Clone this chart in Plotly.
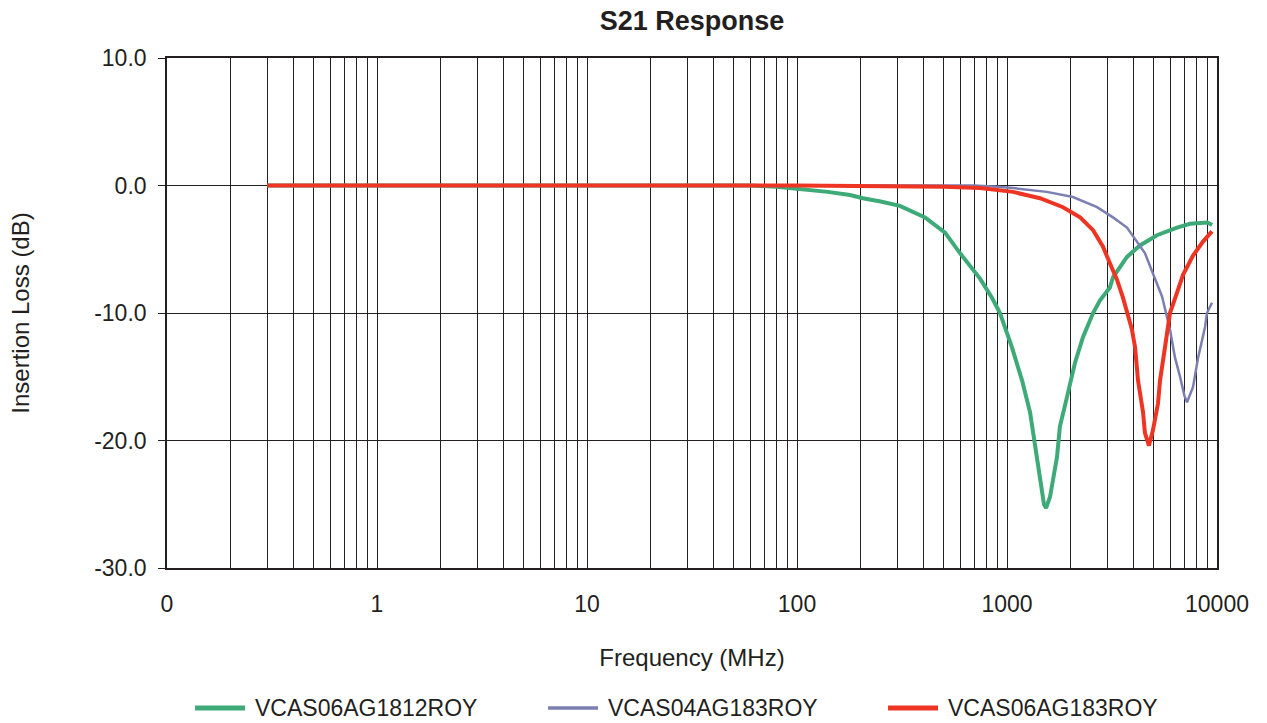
import plotly.graph_objects as go

# ---- data ----
green_name = "VCAS06AG1812ROY"
green_f = [0.3, 1, 10, 30, 60, 80, 100, 140, 179, 206, 250, 309, 407, 507, 597, 744, 848, 926,
           1056, 1180, 1288, 1360, 1435, 1500, 1535, 1604, 1730, 1786, 1930, 2108, 2300, 2570,
           2773, 3090, 3197, 3727, 4297, 5176, 6452, 7436, 9000, 9480]
green_db = [0, 0, 0, 0, 0, -0.1, -0.25, -0.5, -0.75, -1.0, -1.25, -1.6, -2.5, -3.7, -5.3, -7.3,
            -8.8, -10.0, -12.7, -15.3, -17.8, -20.5, -23.1, -25.0, -25.3, -24.4, -21.3, -18.9,
            -16.6, -13.9, -11.9, -10.0, -9.0, -8.0, -7.2, -5.6, -4.7, -3.9, -3.3, -3.0, -2.9, -3.1]

blue_name = "VCAS04AG183ROY"
blue_f = [0.3, 1, 10, 100, 700, 900, 1068, 1549, 2061, 2684, 3197, 3727, 4158, 4537, 4953, 5473,
          5972, 6310, 6668, 7000, 7197, 7690, 8128, 8770, 8958, 9462]
blue_db = [0, 0, 0, 0, 0, -0.1, -0.2, -0.5, -0.9, -1.7, -2.5, -3.3, -4.4, -5.3, -6.9, -8.7,
           -11.3, -13.5, -15.0, -16.5, -17.0, -15.8, -13.5, -11.1, -10.0, -9.2]

red_name = "VCAS06AG183ROY"
red_f = [0.3, 1, 10, 100, 500, 744, 1068, 1435, 1848, 2228, 2570, 2865, 3090, 3343, 3566, 3936,
         4074, 4207, 4446, 4537, 4742, 4953, 5236, 5354, 5653, 5972, 6452, 6890, 7690, 8578, 9462]
red_db = [0, 0, 0, 0, -0.1, -0.2, -0.5, -1.0, -1.7, -2.5, -3.5, -4.8, -6.1, -7.4, -8.8, -11.3,
          -12.7, -15.3, -17.8, -19.4, -20.4, -19.2, -17.1, -15.3, -12.7, -10.0, -8.4, -7.0,
          -5.5, -4.4, -3.6]

decades = [0.1, 1, 10, 100, 1000, 10000]
decade_labels = ["0", "1", "10", "100", "1000", "10000"]
y_ticks = [10, 0, -10, -20, -30]
y_labels = ["10.0", "0.0", "-10.0", "-20.0", "-30.0"]

minor_vals = [d * k for d in decades[:-1] for k in range(2, 10)]

FONT = "Liberation Sans, Arial, sans-serif"
INK = "#231F20"
GRID = "#231F20"

series = [
    (green_name, green_f, green_db, "#3DAA78", 4),
    (blue_name, blue_f, blue_db, "#7B7FB2", 2.5),
    (red_name, red_f, red_db, "#EE3524", 4),
]

fig = go.Figure()
for name, f, db, color, w in series:
    fig.add_trace(go.Scatter(x=f, y=db, mode="lines", name=name,
                             line=dict(color=color, width=w), showlegend=False))

# custom legend below the chart (paper coordinates), built from series names/colours
legend_x = [0.0267, 0.3629, 0.6867]   # line start of each entry
legend_y = -0.2745
legend_len = 0.0476
legend_w = [5, 3.5, 5]
shapes = []
annotations = []
for (name, f, db, color, w), lx, lw in zip(series, legend_x, legend_w):
    shapes.append(dict(type="line", xref="paper", yref="paper",
                       x0=lx, x1=lx + legend_len, y0=legend_y, y1=legend_y,
                       line=dict(color=color, width=lw)))
    annotations.append(dict(xref="paper", yref="paper", x=lx + legend_len + 0.0076, y=legend_y,
                            xanchor="left", yanchor="middle", showarrow=False, text=name,
                            font=dict(size=23, family=FONT, color=INK)))

fig.update_layout(
    width=1267, height=723,
    paper_bgcolor="white", plot_bgcolor="white",
    margin=dict(l=167, r=50, t=58, b=155),
    font=dict(family=FONT, color=INK, size=23),
    title=dict(text="<b>S21 Response</b>", x=0.5, xref="paper", y=0.971, yanchor="middle",
               font=dict(size=27, family=FONT, color=INK)),
    showlegend=False,
    shapes=shapes,
    annotations=annotations,
)
fig.update_xaxes(
    type="log", range=[-1, 4],
    tickvals=decades, ticktext=decade_labels, ticks="", ticklabelstandoff=15,
    tickfont=dict(size=23, color=INK),
    showgrid=True, gridcolor=GRID, gridwidth=1.4,
    minor=dict(tickvals=minor_vals, showgrid=True, gridcolor=GRID, gridwidth=1.4, ticks=""),
    showline=True, linecolor=GRID, linewidth=1.6, mirror=True,
    title=dict(text="Frequency (MHz)", font=dict(size=24, color=INK), standoff=33),
    zeroline=False, automargin=False,
)
fig.update_yaxes(
    range=[-30, 10], tickvals=y_ticks, ticktext=y_labels,
    ticks="outside", ticklen=7, tickcolor=GRID, tickwidth=1,
    ticklabelstandoff=7,
    tickfont=dict(size=23, color=INK),
    showgrid=True, gridcolor=GRID, gridwidth=1.4,
    showline=True, linecolor=GRID, linewidth=1.6, mirror=True,
    title=dict(text="Insertion Loss (dB)", font=dict(size=24, color=INK), standoff=58),
    zeroline=False, automargin=False,
)

fig.write_html("out.html", config={"displayModeBar": False},
               post_script="document.body.style.margin='0';")
